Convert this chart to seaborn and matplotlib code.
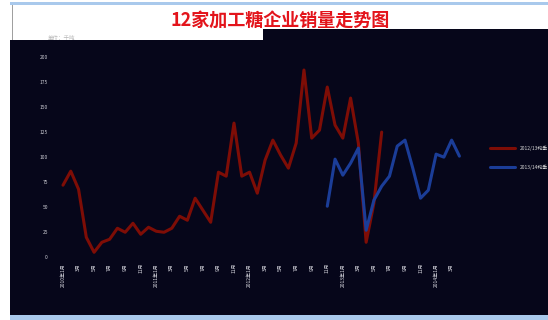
import matplotlib
matplotlib.use("Agg")
import matplotlib.pyplot as plt
import numpy as np
import pandas as pd
import seaborn as sns
from matplotlib.patches import Rectangle
from matplotlib.lines import Line2D

sns.set_theme(style="dark")
plt.rcParams['font.family'] = ['Noto Sans CJK SC', 'DejaVu Sans']

# ---------------- data ----------------
title_text = "12家加工糖企业销量走势图"
unit_text = "单位：千吨"
series_names = ["2012/13榨季", "2013/14榨季"]

categories = [
    "2010年1月", "2月", "3月", "4月", "5月", "6月", "7月", "8月", "9月", "10月", "11月", "12月",
    "2011年1月", "2月", "3月", "4月", "5月", "6月", "7月", "8月", "9月", "10月", "11月", "12月",
    "2012年1月", "2月", "3月", "4月", "5月", "6月", "7月", "8月", "9月", "10月", "11月", "12月",
    "2013年1月", "2月", "3月", "4月", "5月", "6月", "7月", "8月", "9月", "10月", "11月", "12月",
    "2014年1月", "2月", "3月", "4月",
]

red_values = [72, 86, 68, 20, 5, 15, 18, 29, 25, 34, 23, 30, 26, 25, 29, 41, 37, 59, 47, 35,
              85, 81, 134, 81, 85, 64, 97, 117, 102, 89, 114, 187, 119, 127, 170, 132, 119, 159,
              114, 15, 54, 125]
blue_start = 34
blue_values = [51, 98, 82, 94, 109, 27, 57, 71, 81, 111, 117, 89, 59, 67, 103, 100, 117, 101]

y_ticks = [0, 25, 50, 75, 100, 125, 150, 175, 200]

# ---------------- figure ----------------
W, H = 548, 320
fig = plt.figure(figsize=(W / 100, H / 100), dpi=100)
fig.patch.set_facecolor("white")

dark = "#06061a"


def rect(x0, y0, x1, y1, color, z=-1):
    fig.patches.append(Rectangle((x0 / W, 1 - y1 / H), (x1 - x0) / W, (y1 - y0) / H,
                                 transform=fig.transFigure, facecolor=color,
                                 edgecolor="none", zorder=z))


# top light-blue strip, bottom strip, gray left line
rect(10, 2, 548, 5, "#a9c9ec")
rect(11.5, 5, 13, 40, "#a0a0a0")
# dark chart area
rect(10, 40, 548, 315, dark)
rect(263, 29, 548, 40, dark)
rect(10, 315, 548, 320, "#a9c9ec")

fig.text(280 / W, 1 - 21.5 / H, title_text, color="#e3141b", fontsize=13,
         fontweight="bold", ha="center", va="center", zorder=-5)
fig.text(48 / W, 1 - 37 / H, unit_text, color="#b8b8b8", fontsize=4,
         ha="left", va="center", zorder=-5)

# plot axes
x_left, x_right = 59.1, 463.3
y_top, y_bottom = 57.0, 257.3
ax = fig.add_axes([x_left / W, 1 - y_bottom / H, (x_right - x_left) / W, (y_bottom - y_top) / H])
ax.set_facecolor(dark)
ax.patch.set_alpha(0)

red_df = pd.DataFrame({"x": np.arange(len(red_values)), "v": red_values})
blue_df = pd.DataFrame({"x": np.arange(blue_start, blue_start + len(blue_values)), "v": blue_values})

sns.lineplot(data=red_df, x="x", y="v", ax=ax, color="#7e0d06", linewidth=2.2,
             label=series_names[0])
sns.lineplot(data=blue_df, x="x", y="v", ax=ax, color="#1b3d98", linewidth=2.2,
             label=series_names[1])

ax.set_xlim(-0.5, len(categories) - 0.5)
ax.set_ylim(y_ticks[0], y_ticks[-1])
ax.grid(False)
for s in ax.spines.values():
    s.set_visible(False)
ax.set_xlabel("")
ax.set_ylabel("")

ax.set_yticks(y_ticks)
ax.set_yticklabels([str(t) for t in y_ticks], fontsize=3.5, color="#d0d0d8")
ax.tick_params(axis="y", length=0, pad=8)

xt = list(range(0, len(categories), 2))
ax.set_xticks(xt)
ax.set_xticklabels([categories[i] for i in xt], rotation=90, fontsize=3.6, color="#d8d8e0")
ax.tick_params(axis="x", length=0, pad=4)

leg = ax.legend(loc="center left", bbox_to_anchor=(490 / W, 1 - 158 / H),
                bbox_transform=fig.transFigure, frameon=False, fontsize=3.5,
                labelcolor="#d8d8d8", handlelength=5.2, handletextpad=1.0,
                labelspacing=2.8, borderpad=0, borderaxespad=0)
for line in leg.get_lines():
    line.set_linewidth(2.2)

fig.savefig("out.png", dpi=100, facecolor=fig.get_facecolor())
